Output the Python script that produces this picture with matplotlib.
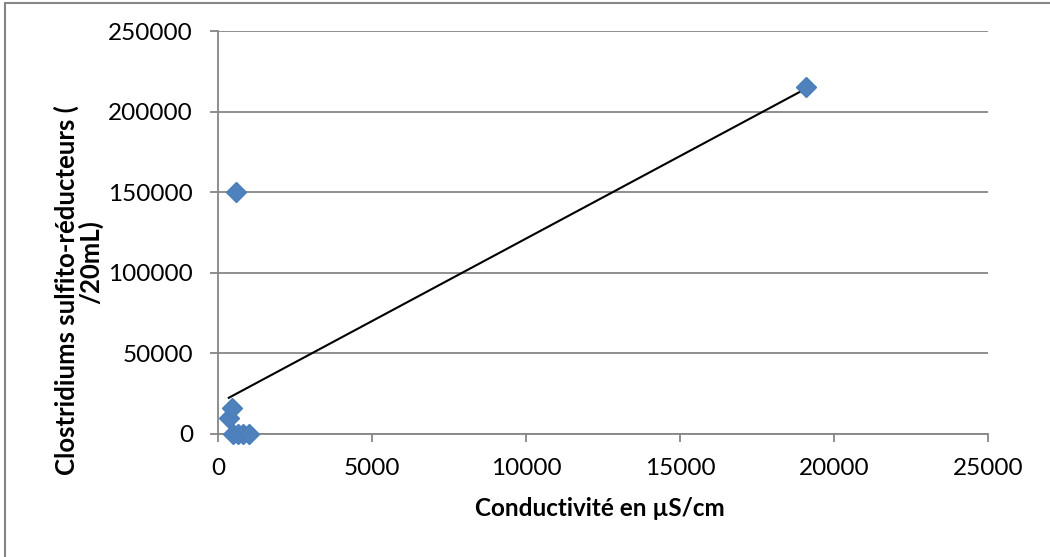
import numpy as np
import matplotlib.pyplot as plt
from matplotlib.patches import Rectangle

plt.switch_backend("Agg")
plt.rcParams["font.family"] = ["Lato", "DejaVu Sans"]

# conductivity (µS/cm) and clostridium counts (/20mL)
conductivite = [350, 450, 500, 650, 800, 1000, 600, 19100]
clostridiums = [10000, 16000, 0, 0, 0, 0, 150000, 215000]

x_ticks = [0, 5000, 10000, 15000, 20000, 25000]
y_ticks = [0, 50000, 100000, 150000, 200000, 250000]

W, H = 1050, 557
fig = plt.figure(figsize=(W / 100, H / 100), dpi=100)
ax = fig.add_axes([218 / W, 1 - 434 / H, 770 / W, 403 / H])

grey = "#868686"
ax.set_xlim(0, 25000)
ax.set_ylim(0, 250000)
ax.set_xticks(x_ticks)
ax.set_yticks(y_ticks)
ax.set_xticklabels([str(v) for v in x_ticks])
ax.set_yticklabels([str(v) for v in y_ticks])
ax.grid(axis="y", color=grey, linewidth=1.3)
ax.set_axisbelow(True)
for side in ("top", "right"):
    ax.spines[side].set_visible(False)
for side in ("left", "bottom"):
    ax.spines[side].set_color(grey)
    ax.spines[side].set_linewidth(1.3)
ax.tick_params(colors=grey, labelcolor="black", labelsize=17.5, length=6, width=1.3)
ax.tick_params(axis="y", pad=12)
ax.tick_params(axis="x", pad=11)

# linear trendline
x = np.array(conductivite, dtype=float)
y = np.array(clostridiums, dtype=float)
slope, intercept = np.polyfit(x, y, 1)
xs = np.array([x.min(), x.max()])
ax.plot(xs, slope * xs + intercept, color="black", linewidth=1.5, zorder=2)

ax.plot(conductivite, clostridiums, linestyle="none", marker="D", markersize=10.5,
        color="#4F81BD", markeredgecolor="#4A7EBB", zorder=3, clip_on=False)

# axis titles
fig.text(600 / W, 1 - 508 / H, "Conductivité en µS/cm", fontsize=17.5, fontweight="bold",
         ha="center", va="center")
fig.text(66 / W, 1 - 290 / H, "Clostridiums sulfito-réducteurs (", fontsize=18.5,
         fontweight="bold", rotation=90, ha="center", va="center")
fig.text(91 / W, 1 - 262 / H, "/20mL)", fontsize=18.5, fontweight="bold",
         rotation=90, ha="center", va="center")

# frame of the chart area
fig.patches.append(Rectangle((5 / W, -0.1), 1.2, 1.1 - 3 / H, transform=fig.transFigure,
                             fill=False, edgecolor=grey, linewidth=1.5))

fig.savefig("out.png", dpi=100)
